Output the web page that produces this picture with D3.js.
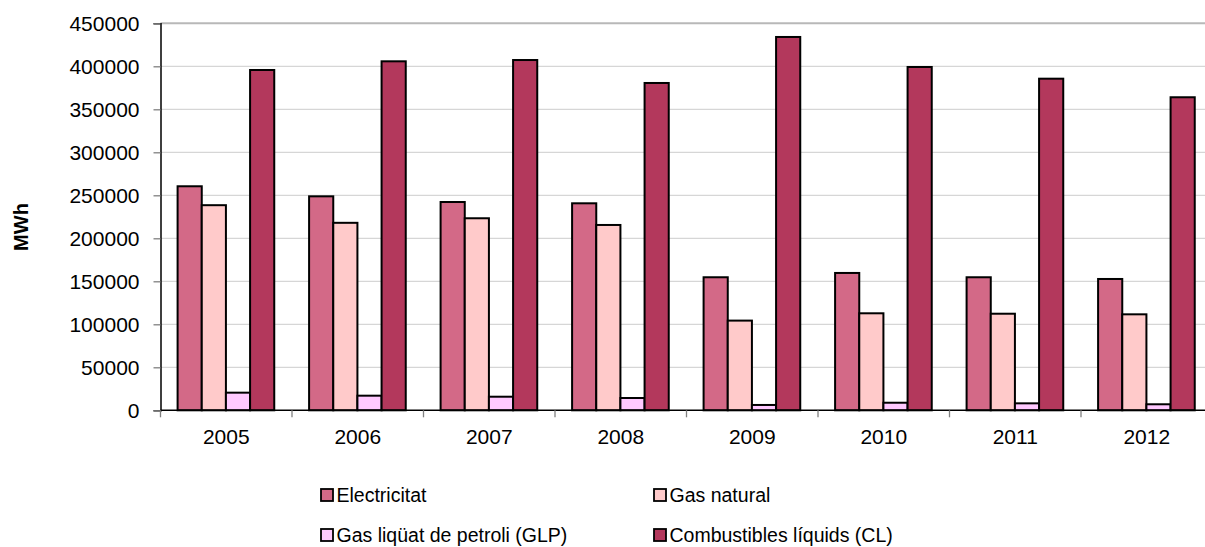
<!DOCTYPE html>
<html lang="ca">
<head>
<meta charset="utf-8">
<title>MWh per font d'energia</title>
<script src="https://d3js.org/d3.v7.min.js"></script>
<style>
  body { margin: 0; background: #fff; }
  svg text { font-family: "Liberation Sans", Arial, sans-serif; fill: #000; }
</style>
</head>
<body>
<div id="chart"></div>
<script>
// data
var years = ["2005", "2006", "2007", "2008", "2009", "2010", "2011", "2012"];
var seriesNames = ["Electricitat", "Gas natural", "Gas liqüat de petroli (GLP)", "Combustibles líquids (CL)"];
var electricitat = [260500, 248800, 242200, 240700, 154700, 159700, 154700, 152700];
var gasNatural   = [238500, 218000, 223300, 215500, 104300, 112800, 112300, 111600];
var glp          = [20500, 17000, 15800, 14300, 6200, 8800, 8100, 7000];
var combustibles = [395700, 405800, 407300, 380600, 434100, 399200, 385600, 364000];
var yTicks = [0, 50000, 100000, 150000, 200000, 250000, 300000, 350000, 400000, 450000];
var colors = ["#d36987", "#ffcaca", "#ffc9ff", "#b3385c"];

var seriesValues = [electricitat, gasNatural, glp, combustibles];

var W = 1205, H = 547;
var plotLeft = 160.5, plotRight = 1212.5, plotTop = 23.3, plotBottom = 410.3;

var svg = d3.select("#chart").append("svg")
    .attr("width", W)
    .attr("height", H);

var y = d3.scaleLinear()
    .domain([0, 450000])
    .range([plotBottom, plotTop]);

var x0 = d3.scaleBand()
    .domain(years)
    .range([plotLeft, plotRight])
    .padding(0);

var bw = x0.bandwidth();
var x1 = d3.scaleBand()
    .domain(d3.range(seriesNames.length))
    .range([bw * 0.13, bw * 0.865]);

// gridlines
svg.append("g")
  .selectAll("line")
  .data(yTicks.filter(function(d) { return d > 0; }))
  .enter().append("line")
    .attr("x1", plotLeft)
    .attr("x2", plotRight)
    .attr("y1", function(d) { return y(d); })
    .attr("y2", function(d) { return y(d); })
    .attr("stroke", function(d) { return d === 450000 ? "#b8b8b8" : "#d6d6d6"; })
    .attr("stroke-width", function(d) { return d === 450000 ? 2 : 1.3; });

// y axis
var yAxis = svg.append("g")
    .attr("transform", "translate(" + plotLeft + ",0)")
    .call(d3.axisLeft(y).tickValues(yTicks).tickSize(7).tickPadding(14).tickFormat(d3.format("d")));
yAxis.select(".domain").attr("stroke", "#000").attr("stroke-width", 1.5);
yAxis.selectAll(".tick line").attr("stroke", "#808080").attr("stroke-width", 1.3);
yAxis.selectAll("text").style("font-size", "21px");

// bars
var groups = svg.append("g")
  .selectAll("g")
  .data(years)
  .enter().append("g")
    .attr("transform", function(d) { return "translate(" + x0(d) + ",0)"; });

groups.selectAll("rect")
  .data(function(d, i) { return seriesValues.map(function(vals, s) { return {s: s, v: vals[i]}; }); })
  .enter().append("rect")
    .attr("x", function(d) { return x1(d.s); })
    .attr("width", x1.bandwidth())
    .attr("y", function(d) { return y(d.v); })
    .attr("height", function(d) { return plotBottom - y(d.v); })
    .attr("fill", function(d) { return colors[d.s]; })
    .attr("stroke", "#000")
    .attr("stroke-width", 2);

// x axis
var xTickScale = d3.scaleLinear().domain([0, years.length]).range([plotLeft, plotRight]);
var xAxis = svg.append("g")
    .attr("transform", "translate(0," + plotBottom + ")");
xAxis.append("line")
    .attr("x1", plotLeft).attr("x2", plotRight)
    .attr("stroke", "#000").attr("stroke-width", 1.5);
xAxis.selectAll(".xt")
  .data(d3.range(years.length + 1))
  .enter().append("line")
    .attr("class", "xt")
    .attr("x1", function(d) { return xTickScale(d); })
    .attr("x2", function(d) { return xTickScale(d); })
    .attr("y1", 0).attr("y2", 7)
    .attr("stroke", "#808080").attr("stroke-width", 1.3);
xAxis.selectAll(".xl")
  .data(years)
  .enter().append("text")
    .attr("class", "xl")
    .attr("x", function(d) { return x0(d) + bw / 2; })
    .attr("y", 34)
    .attr("text-anchor", "middle")
    .style("font-size", "21px")
    .text(function(d) { return d; });

// y title
svg.append("text")
    .attr("transform", "translate(28,227) rotate(-90)")
    .attr("text-anchor", "middle")
    .style("font-size", "20px")
    .style("font-weight", "bold")
    .text("MWh");

// legend
var legendX = [321, 654];
var legendY = [495, 535];
var legend = svg.append("g")
  .selectAll("g")
  .data(seriesNames)
  .enter().append("g")
    .attr("transform", function(d, i) { return "translate(" + legendX[i % 2] + "," + legendY[Math.floor(i / 2)] + ")"; });
legend.append("rect")
    .attr("x", 0).attr("y", -6)
    .attr("width", 12).attr("height", 12)
    .attr("fill", function(d, i) { return colors[i]; })
    .attr("stroke", "#000")
    .attr("stroke-width", 1.8);
legend.append("text")
    .attr("x", 15.5)
    .attr("y", 6.5)
    .style("font-size", "19.5px")
    .text(function(d) { return d; });
</script>
</body>
</html>
